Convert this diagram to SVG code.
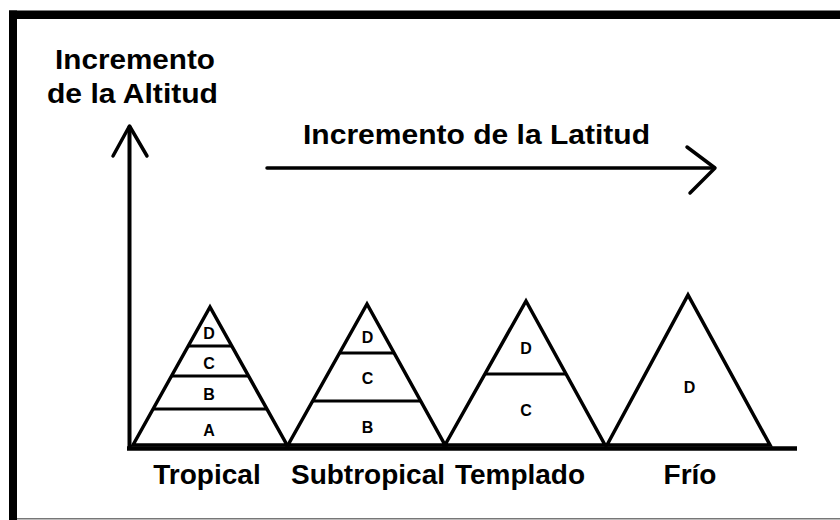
<svg xmlns="http://www.w3.org/2000/svg" width="840" height="520" viewBox="0 0 840 520">
  <style>
    .ln { stroke: #000; fill: none; stroke-linecap: round; stroke-linejoin: round; }
    .tri { stroke: #000; stroke-width: 3.5; fill: #fff; stroke-linejoin: miter; }
    .band { stroke: #000; stroke-width: 3.2; }
    .big { font-family: "Liberation Sans", Arial, sans-serif; font-weight: bold; font-size: 28px; fill: #000; }
    .zone { font-family: "Liberation Sans", Arial, sans-serif; font-weight: bold; font-size: 16px; fill: #000; text-anchor: middle; }
  </style>
  <rect x="0" y="0" width="840" height="520" fill="#fff"/>
  <!-- frame -->
  <g id="frame">
    <rect x="9" y="10.5" width="831" height="8.5" fill="#000"/>
    <rect x="9" y="10.5" width="8" height="509.5" fill="#000"/>
    <line x1="17" y1="518.8" x2="840" y2="518.8" stroke="#777" stroke-width="1.5"/>
  </g>

  <!-- axis labels -->
  <g id="label-altitud">
    <text class="big" x="55" y="69" textLength="160" lengthAdjust="spacingAndGlyphs">Incremento</text>
    <text class="big" x="47" y="103" textLength="171" lengthAdjust="spacingAndGlyphs">de la Altitud</text>
  </g>
  <g id="label-latitud">
    <text class="big" x="303" y="144" textLength="347" lengthAdjust="spacingAndGlyphs">Incremento de la Latitud</text>
  </g>

  <!-- mountains -->
  <g id="tropical">
    <polygon class="tri" points="133,445 210,307 287,445"/>
    <line class="band" x1="188.2" y1="346" x2="231.8" y2="346"/>
    <line class="band" x1="171.5" y1="376" x2="248.5" y2="376"/>
    <line class="band" x1="153.1" y1="409" x2="266.9" y2="409"/>
    <text class="zone" x="209" y="339">D</text>
    <text class="zone" x="209" y="369">C</text>
    <text class="zone" x="209" y="400">B</text>
    <text class="zone" x="209" y="436">A</text>
    <text class="big" x="207" y="484" text-anchor="middle">Tropical</text>
  </g>
  <g id="subtropical">
    <polygon class="tri" points="288,445 367,304 445,445"/>
    <line class="band" x1="339.5" y1="353" x2="394.1" y2="353"/>
    <line class="band" x1="312.6" y1="401" x2="420.7" y2="401"/>
    <text class="zone" x="367.5" y="343">D</text>
    <text class="zone" x="367.5" y="384">C</text>
    <text class="zone" x="367.5" y="433">B</text>
    <text class="big" x="368" y="484" text-anchor="middle">Subtropical</text>
  </g>
  <g id="templado">
    <polygon class="tri" points="445,445 526,301 605,445"/>
    <line class="band" x1="484.9" y1="374" x2="566" y2="374"/>
    <text class="zone" x="526" y="354">D</text>
    <text class="zone" x="526" y="416">C</text>
    <text class="big" x="520" y="484" text-anchor="middle">Templado</text>
  </g>
  <g id="frio">
    <polygon class="tri" points="607,445 688,295 770,445"/>
    <text class="zone" x="689.5" y="393">D</text>
    <text class="big" x="690" y="484" text-anchor="middle">Frío</text>
  </g>

  <!-- connectors / axes -->
  <g id="connectors">
    <line x1="127" y1="448.5" x2="797" y2="448.5" stroke="#000" stroke-width="4.5"/>
    <line class="ln" x1="129.5" y1="127" x2="129.5" y2="448" stroke-width="4"/>
    <polyline class="ln" points="113,156 129.5,126 147,156" stroke-width="3.5"/>
    <line class="ln" x1="267" y1="168" x2="714" y2="168" stroke-width="3.5"/>
    <polyline class="ln" points="687,147 715,168 690,193" stroke-width="3.5"/>
  </g>
</svg>
